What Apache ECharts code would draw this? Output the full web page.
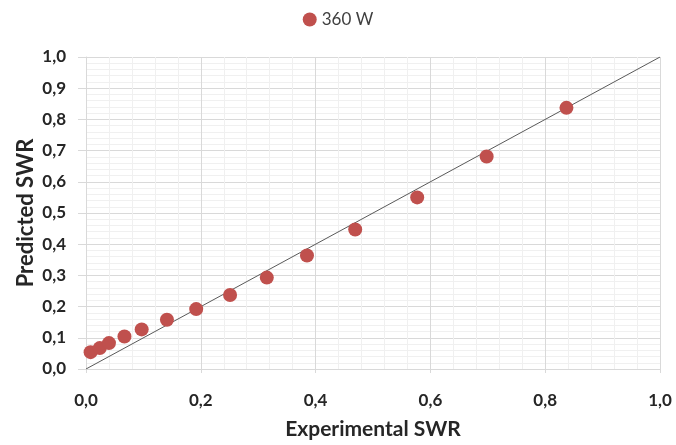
<!DOCTYPE html>
<html>
<head>
<meta charset="utf-8">
<script src="https://cdn.jsdelivr.net/npm/echarts@6/dist/echarts.min.js"></script>
<style>
  html, body { margin: 0; padding: 0; background: #fff; }
  #chart { width: 676px; height: 445px; }
</style>
</head>
<body>
<div id="chart"></div>
<script>
// measured vs predicted SWR, 360 W
const experimental = [0.008, 0.024, 0.040, 0.067, 0.097, 0.141, 0.192, 0.251, 0.315, 0.385, 0.469, 0.577, 0.698, 0.837]
const predicted = [0.054, 0.067, 0.083, 0.104, 0.127, 0.158, 0.192, 0.237, 0.293, 0.364, 0.447, 0.550, 0.681, 0.837]
const seriesName = '360 W'
const identityLine = [[0, 0], [1, 1]]

const fmt = v => v.toFixed(1).replace('.', ',')
const font = 'Lato, "Open Sans", sans-serif'

const chart = echarts.init(document.getElementById('chart'))
chart.setOption({
  animation: false,
  backgroundColor: '#fff',
  textStyle: { fontFamily: font },
  legend: {
    top: 6,
    left: 'center',
    data: [{ name: seriesName, icon: 'circle' }],
    itemWidth: 14,
    itemHeight: 14,
    itemGap: 6,
    textStyle: { fontSize: 17, color: '#404040', fontFamily: font }
  },
  grid: { left: 86, right: 16, top: 57, bottom: 74 },
  xAxis: {
    type: 'value',
    min: 0, max: 1, interval: 0.2,
    name: 'Experimental SWR',
    nameLocation: 'middle',
    nameGap: 50,
    nameTextStyle: { fontSize: 21, fontWeight: 'bold', color: '#262626', fontFamily: font },
    axisLine: { show: true, lineStyle: { color: '#d9d9d9' } },
    axisTick: { show: true, length: 4, lineStyle: { color: '#d9d9d9' } },
    axisLabel: { formatter: fmt, fontSize: 17, fontWeight: 'bold', color: '#262626', margin: 23 },
    splitLine: { show: true, lineStyle: { color: '#d9d9d9' } },
    minorTick: { show: false, splitNumber: 5 },
    minorSplitLine: { show: true, lineStyle: { color: '#f0f0f0' } }
  },
  yAxis: {
    type: 'value',
    min: 0, max: 1, interval: 0.1,
    name: 'Predicted SWR',
    nameLocation: 'middle',
    nameGap: 49,
    nameMoveOverlap: false,
    nameTextStyle: { fontSize: 22, fontWeight: 'bold', color: '#262626', fontFamily: font },
    axisLine: { show: true, lineStyle: { color: '#d9d9d9' } },
    axisTick: { show: true, length: 8, lineStyle: { color: '#d9d9d9' } },
    axisLabel: { formatter: fmt, fontSize: 17, fontWeight: 'bold', color: '#262626', margin: 20 },
    splitLine: { show: true, lineStyle: { color: '#d9d9d9' } },
    minorTick: { show: false, splitNumber: 5 },
    minorSplitLine: { show: true, lineStyle: { color: '#f0f0f0' } }
  },
  series: [
    {
      name: 'y = x',
      type: 'line',
      data: identityLine,
      symbol: 'none',
      silent: true,
      lineStyle: { color: '#595959', width: 1 },
      z: 2
    },
    {
      name: seriesName,
      type: 'scatter',
      data: experimental.map((x, i) => [x, predicted[i]]),
      symbol: 'circle',
      symbolSize: 14,
      itemStyle: { color: '#c0504d', opacity: 1 },
      z: 3
    }
  ]
})
</script>
</body>
</html>
